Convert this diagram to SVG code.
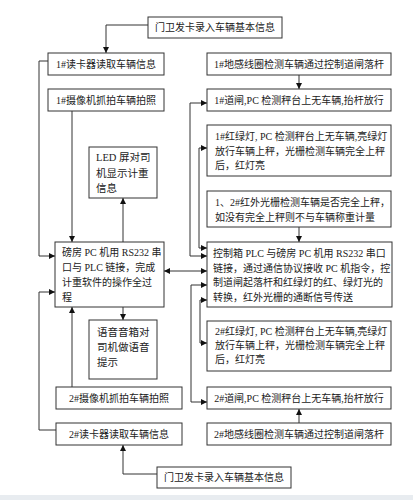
<svg xmlns="http://www.w3.org/2000/svg" width="413" height="500" viewBox="0 0 413 500">
<style>
.box{fill:#fff;stroke:#333;stroke-width:1}
.t{font-family:"Liberation Serif","Noto Sans CJK SC",serif;font-size:10px;fill:#222;dominant-baseline:central}
.c{text-anchor:middle}
.ln{fill:none;stroke:#333;stroke-width:1}
</style>
<defs>
<marker id="ah" markerWidth="6" markerHeight="6" refX="6" refY="3" orient="auto-start-reverse" markerUnits="userSpaceOnUse">
<path d="M0,0 L6,3 L0,6 z" fill="#111"/>
</marker>
</defs>
<rect x="0" y="0" width="413" height="500" fill="#fff"/>
<rect x="0" y="495" width="413" height="5" fill="#e8ecf0"/>

<g id="connectors">
<path class="ln" d="M148,25 H106 V53" marker-end="url(#ah)"/>
<path class="ln" d="M48,61 H39 V256 H55" marker-end="url(#ah)"/>
<path class="ln" d="M72,111 V242" marker-end="url(#ah)"/>
<path class="ln" d="M123,242 V198" marker-end="url(#ah)"/>
<path class="ln" d="M123,307 V320" marker-end="url(#ah)"/>
<path class="ln" d="M72,387 V307" marker-end="url(#ah)"/>
<path class="ln" d="M56,430 H39 V292 H55" marker-end="url(#ah)"/>
<path class="ln" d="M157,474 H123 V445" marker-end="url(#ah)"/>
<path class="ln" d="M164,271 H207" marker-start="url(#ah)" marker-end="url(#ah)"/>
<path class="ln" d="M299,75 V89" marker-end="url(#ah)"/>
<path class="ln" d="M207,103 H190 V256 H207" marker-start="url(#ah)" marker-end="url(#ah)"/>
<path class="ln" d="M207,148 H199 V248 H207" marker-start="url(#ah)" marker-end="url(#ah)"/>
<path class="ln" d="M299,227 V242" marker-end="url(#ah)"/>
<path class="ln" d="M207,285 H191 V402 H207" marker-start="url(#ah)" marker-end="url(#ah)"/>
<path class="ln" d="M207,300 H200 V343 H207" marker-start="url(#ah)" marker-end="url(#ah)"/>
<path class="ln" d="M299,423 V409" marker-end="url(#ah)"/>
</g>

<g id="n-guard1"><rect class="box" x="148" y="17" width="134" height="21"/><text class="t c" x="215" y="27.5">门卫发卡录入车辆基本信息</text></g>
<g id="n-reader1"><rect class="box" x="48" y="53" width="116" height="22"/><text class="t c" x="106" y="64">1#读卡器读取车辆信息</text></g>
<g id="n-cam1"><rect class="box" x="48" y="89" width="116" height="22"/><text class="t c" x="106" y="100">1#摄像机抓拍车辆拍照</text></g>
<g id="n-led"><rect class="box" x="89" y="147" width="68" height="51"/>
<text class="t" x="96" y="157" style="font-size:10.5px">LED 屏对司</text>
<text class="t" x="96" y="173" style="font-size:10.5px">机显示计重</text>
<text class="t" x="96" y="188" style="font-size:10.5px">信息</text></g>
<g id="n-pc"><rect class="box" x="55" y="242" width="109" height="65"/>
<text class="t" x="62" y="252">磅房 PC 机用 RS232 串</text>
<text class="t" x="62" y="267">口与 PLC 链接，完成</text>
<text class="t" x="62" y="282">计重软件的操作全过</text>
<text class="t" x="62" y="297">程</text></g>
<g id="n-voice"><rect class="box" x="89" y="320" width="68" height="59"/>
<text class="t" x="97" y="332" style="font-size:10.5px">语音音箱对</text>
<text class="t" x="97" y="347" style="font-size:10.5px">司机做语音</text>
<text class="t" x="97" y="362" style="font-size:10.5px">提示</text></g>
<g id="n-cam2"><rect class="box" x="56" y="387" width="126" height="22"/><text class="t c" x="119" y="398">2#摄像机抓拍车辆拍照</text></g>
<g id="n-reader2"><rect class="box" x="56" y="423" width="126" height="22"/><text class="t c" x="119" y="434">2#读卡器读取车辆信息</text></g>
<g id="n-guard2"><rect class="box" x="157" y="467" width="134" height="21"/><text class="t c" x="224" y="477.5">门卫发卡录入车辆基本信息</text></g>

<g id="n-loop1"><rect class="box" x="207" y="53" width="184" height="22"/><text class="t c" x="299" y="64">1#地感线圈检测车辆通过控制道闸落杆</text></g>
<g id="n-gate1"><rect class="box" x="207" y="89" width="184" height="22"/><text class="t c" x="299" y="100">1#道闸,PC 检测秤台上无车辆,抬杆放行</text></g>
<g id="n-light1"><rect class="box" x="207" y="125" width="184" height="51"/>
<text class="t" x="215" y="136">1#红绿灯, PC 检测秤台上无车辆,亮绿灯</text>
<text class="t" x="215" y="151">放行车辆上秤，光栅检测车辆完全上秤</text>
<text class="t" x="215" y="165">后，红灯亮</text></g>
<g id="n-ir"><rect class="box" x="207" y="191" width="184" height="36"/>
<text class="t" x="215" y="202">1、2#红外光栅检测车辆是否完全上秤，</text>
<text class="t" x="215" y="217">如没有完全上秤则不与车辆称重计量</text></g>
<g id="n-plc"><rect class="box" x="207" y="242" width="185" height="65"/>
<text class="t" x="213" y="253">控制箱 PLC 与磅房 PC 机用 RS232 串口</text>
<text class="t" x="213" y="268">链接，通过通信协议接收 PC 机指令，控</text>
<text class="t" x="213" y="282">制道闸起落杆和红绿灯的红、绿灯光的</text>
<text class="t" x="213" y="297">转换，红外光栅的通断信号传送</text></g>
<g id="n-light2"><rect class="box" x="207" y="321" width="184" height="50"/>
<text class="t" x="215" y="331">2#红绿灯, PC 检测秤台上无车辆,亮绿灯</text>
<text class="t" x="215" y="345">放行车辆上秤，光栅检测车辆完全上秤</text>
<text class="t" x="215" y="359">后，红灯亮</text></g>
<g id="n-gate2"><rect class="box" x="207" y="387" width="184" height="22"/><text class="t c" x="299" y="398">2#道闸,PC 检测秤台上无车辆,抬杆放行</text></g>
<g id="n-loop2"><rect class="box" x="207" y="423" width="184" height="22"/><text class="t c" x="299" y="434">2#地感线圈检测车辆通过控制道闸落杆</text></g>
</svg>
